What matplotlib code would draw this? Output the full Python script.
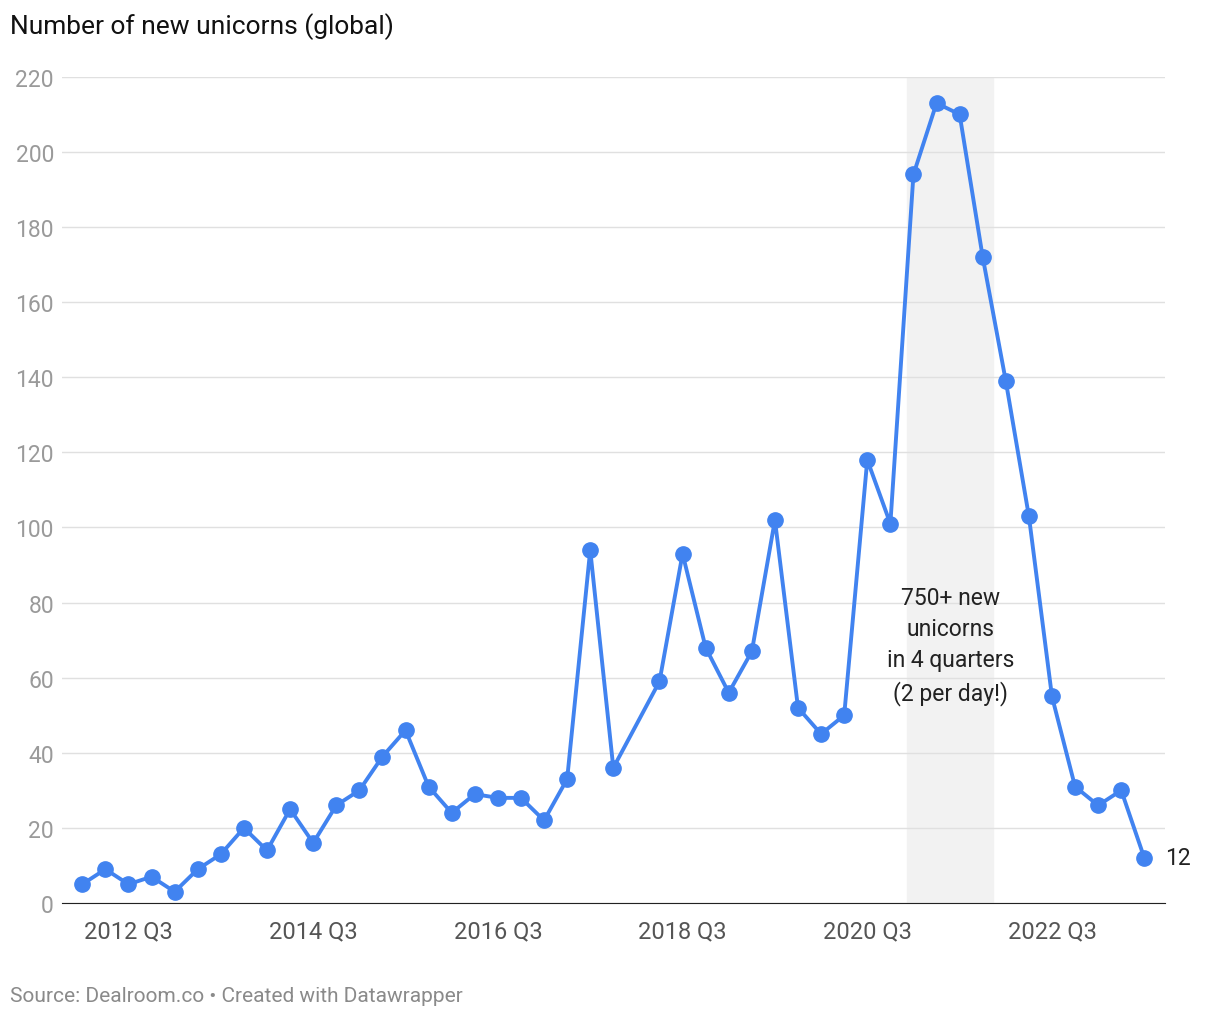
import numpy as np
import matplotlib
matplotlib.use("Agg")
import matplotlib.pyplot as plt

plt.rcParams['font.family'] = ['Roboto', 'DejaVu Sans']

# quarter index 0 = 2012 Q1; 2018 Q1 (idx 24) has no value
idx = [0,1,2,3,4,5,6,7,8,9,10,11,12,13,14,15,16,17,18,19,20,21,22,23,
       25,26,27,28,29,30,31,32,33,34,35,36,37,38,39,40,41,42,43,44,45,46]
vals = [5,9,5,7,3,9,13,20,14,25,16,26,30,39,46,31,24,29,28,28,22,33,94,36,
        59,93,68,56,67,102,52,45,50,118,101,194,213,210,172,139,103,55,31,26,30,12]
tick_pos = [2, 10, 18, 26, 34, 42]
tick_lab = ["2012 Q3", "2014 Q3", "2016 Q3", "2018 Q3", "2020 Q3", "2022 Q3"]
blue = "#4183f0"

fig = plt.figure(figsize=(12.2, 10.2), dpi=100)
ax = fig.add_axes([0.051, 0.1137, 0.904, 0.81])
ax.axvspan(35.7, 39.45, color="#f2f2f2", zorder=0)
ax.plot(idx, vals, color=blue, lw=2.8, marker="o", ms=11, zorder=3, clip_on=False)
ax.set_xlim(-0.87, 46.9)
ax.set_ylim(0, 220)
ax.set_yticks(range(0, 221, 20))
ax.set_xticks(tick_pos, tick_lab)
ax.grid(axis="y", color="#e0e0e0", lw=1)
ax.set_axisbelow(True)
for s in ["top", "right", "left"]:
    ax.spines[s].set_visible(False)
ax.spines["bottom"].set_color("#222222")
ax.tick_params(axis="y", length=0, labelsize=16.5, colors="#9a9a9a", pad=6)
ax.tick_params(axis="x", length=0, labelsize=17, colors="#555555", pad=12)
ax.text(37.6, 84.5, "750+ new\nunicorns\nin 4 quarters\n(2 per day!)", ha="center", va="top",
        fontsize=16.5, color="#222222", linespacing=1.45)
ax.text(46.9, 12, "12", ha="left", va="center", fontsize=16.5, color="#222222")
fig.text(0.008, 0.974, "Number of new unicorns (global)", fontsize=19, color="#111111", va="center")
fig.text(0.008, 0.023, "Source: Dealroom.co • Created with Datawrapper", fontsize=15,
         color="#8a8a8a", va="center")
fig.savefig("out.png", dpi=100)
